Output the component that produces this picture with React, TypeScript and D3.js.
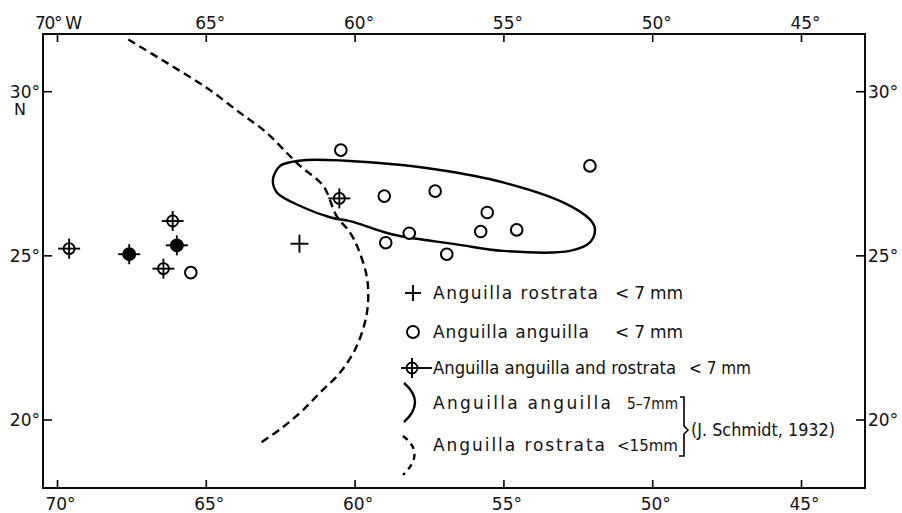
import React from "react";
import * as d3 from "d3";

// ---- data (lon in degrees, west negative; lat in degrees north) ----
const lonTicks = [-70, -65, -60, -55, -50, -45];
const latTicks = [30, 25, 20];

const anguillaLon = [-60.48, -59.02, -57.31, -52.11, -55.56, -55.78, -54.57, -58.18, -58.97, -56.92, -65.52];
const anguillaLat = [28.22, 26.82, 26.97, 27.74, 26.32, 25.74, 25.79, 25.69, 25.4, 25.05, 24.49];

const rostrataLon = [-61.87];
const rostrataLat = [25.37];

const bothLon = [-69.61, -67.59, -66.44, -65.99, -66.13, -60.53];
const bothLat = [25.22, 25.05, 24.61, 25.32, 26.06, 26.75];
const bothFilled = [false, true, false, true, false, false];

// J. Schmidt 1932 contours
const anguillaAreaLon = [-61.63, -59.5, -57.26, -55.03, -53.01, -52.11, -51.94, -52.11, -52.78, -55.03, -56.59, -58.73, -60.17, -60.79, -61.75, -62.63, -62.76, -62.52, -62.13];
const anguillaAreaLat = [27.92, 27.85, 27.63, 27.24, 26.63, 26.11, 25.81, 25.41, 25.15, 25.15, 25.35, 25.65, 26.06, 26.16, 26.48, 26.93, 27.33, 27.74, 27.86];

const rostrataAreaLon = [-67.62, -66.33, -64.99, -63.87, -62.97, -62.3, -61.85, -61.07, -60.62, -60.17, -59.89, -59.61, -59.56, -59.67, -60.0, -60.51, -61.18, -61.85, -62.52, -63.25];
const rostrataAreaLat = [31.59, 30.88, 30.12, 29.36, 28.75, 28.14, 27.74, 27.13, 26.21, 25.71, 25.2, 24.38, 23.67, 22.97, 22.15, 21.44, 20.83, 20.22, 19.72, 19.26];

const FONT = "'DejaVu Sans', sans-serif";

export default function App() {
  const x = d3.scaleLinear().domain([-70, -45]).range([57.5, 801.5]);
  const y = d3.scaleLinear().domain([20, 30]).range([420, 91.7]);
  const L = 43, R = 865, T = 34, B = 488;

  const area1 = anguillaAreaLon.map((lo, i) => [lo, anguillaAreaLat[i]] as [number, number]);
  const area2 = rostrataAreaLon.map((lo, i) => [lo, rostrataAreaLat[i]] as [number, number]);
  const closedLine = d3.line<[number, number]>().x(d => x(d[0])).y(d => y(d[1])).curve(d3.curveCatmullRomClosed);
  const openLine = d3.line<[number, number]>().x(d => x(d[0])).y(d => y(d[1])).curve(d3.curveCatmullRom);

  const fmt = (v: number) => `${Math.abs(v)}°`;

  const crossed = (cx: number, cy: number, filled: boolean, key: string) => (
    <g key={key} stroke="#000" strokeWidth={1.9}>
      <line x1={cx - 11} x2={cx + 11} y1={cy} y2={cy} />
      <line x1={cx} x2={cx} y1={cy - 10} y2={cy + 10} />
      <circle cx={cx} cy={cy} r={filled ? 6 : 5.5} fill={filled ? "#000" : "none"} />
    </g>
  );

  const lt = { fontFamily: FONT, fontSize: 17, fill: "#111" } as const;
  const lts = { fontFamily: FONT, fontSize: 15.5, fill: "#111" } as const;
  const ax = { fontFamily: FONT, fontSize: 17, fill: "#111" } as const;

  return (
    <svg width={902} height={513} style={{ display: "block", position: "absolute", left: 0, top: 0, background: "#fff" }}>
      <rect x={0} y={0} width={902} height={513} fill="#fff" />
      {/* frame */}
      <rect x={L} y={T} width={R - L} height={B - T} fill="none" stroke="#000" strokeWidth={1.9} />
      {/* lon ticks */}
      {lonTicks.map(t => (
        <g key={"lx" + t}>
          <line x1={x(t)} x2={x(t)} y1={T} y2={T + 8} stroke="#000" strokeWidth={1.6} />
          <line x1={x(t)} x2={x(t)} y1={B} y2={B - 8} stroke="#000" strokeWidth={1.6} />
          {t === -70 ? (
            <text x={35} y={29} textLength={47} lengthAdjust="spacing" {...ax}>70° W</text>
          ) : (
            <text x={x(t) + 4} y={29} textAnchor="middle" {...ax}>{fmt(t)}</text>
          )}
          <text x={x(t) + 3} y={510} textAnchor="middle" {...ax}>{fmt(t)}</text>
        </g>
      ))}
      {/* lat ticks */}
      {latTicks.map(t => (
        <g key={"ly" + t}>
          <line x1={L} x2={L + 9} y1={y(t)} y2={y(t)} stroke="#000" strokeWidth={1.6} />
          <line x1={R} x2={R - 9} y1={y(t)} y2={y(t)} stroke="#000" strokeWidth={1.6} />
          <text x={40} y={y(t) + 6} textAnchor="end" {...ax}>{t}°</text>
          <text x={868} y={y(t) + 6} {...ax}>{t}°</text>
        </g>
      ))}
      <text x={14} y={115} fontFamily={FONT} fontSize={16} fill="#111">N</text>

      {/* Schmidt contours */}
      <path d={closedLine(area1) || ""} fill="none" stroke="#000" strokeWidth={2.4} />
      <path d={openLine(area2) || ""} fill="none" stroke="#000" strokeWidth={2.4} strokeDasharray="8,5" />

      {/* markers */}
      {anguillaLon.map((lo, i) => (
        <circle key={"a" + i} cx={x(lo)} cy={y(anguillaLat[i])} r={5.8} fill="#fff" stroke="#000" strokeWidth={2} />
      ))}
      {rostrataLon.map((lo, i) => (
        <g key={"r" + i} stroke="#000" strokeWidth={1.9}>
          <line x1={x(lo) - 9} x2={x(lo) + 9} y1={y(rostrataLat[i])} y2={y(rostrataLat[i])} />
          <line x1={x(lo)} x2={x(lo)} y1={y(rostrataLat[i]) - 9} y2={y(rostrataLat[i]) + 9} />
        </g>
      ))}
      {bothLon.map((lo, i) => crossed(x(lo), y(bothLat[i]), bothFilled[i], "b" + i))}

      {/* legend */}
      <g stroke="#000" strokeWidth={1.9}>
        <line x1={405} x2={421} y1={293} y2={293} />
        <line x1={413} x2={413} y1={285} y2={301} />
      </g>
      <text x={433} y={299} textLength={165} lengthAdjust="spacing" {...lt}>Anguilla rostrata</text>
      <text x={615} y={299} textLength={68} lengthAdjust="spacing" {...lt}>&lt; 7 mm</text>

      <circle cx={413} cy={332} r={6} fill="none" stroke="#000" strokeWidth={1.9} />
      <text x={433} y={338} textLength={156} lengthAdjust="spacing" {...lt}>Anguilla anguilla</text>
      <text x={615} y={338} textLength={68} lengthAdjust="spacing" {...lt}>&lt; 7 mm</text>

      <g stroke="#000" strokeWidth={1.9}>
        <line x1={401} x2={432} y1={368} y2={368} />
        <line x1={412} x2={412} y1={358} y2={378} />
        <circle cx={412} cy={368} r={5.5} fill="none" />
      </g>
      <text x={433} y={374} textLength={243} lengthAdjust="spacingAndGlyphs" {...lt}>Anguilla anguilla and rostrata</text>
      <text x={689} y={374} textLength={62} lengthAdjust="spacingAndGlyphs" {...lt}>&lt; 7 mm</text>

      <path d="M 404 383 Q 426 402 404 422" fill="none" stroke="#000" strokeWidth={2.4} />
      <text x={433} y={409} textLength={178} lengthAdjust="spacing" {...lt}>Anguilla anguilla</text>
      <text x={627} y={409} textLength={51} lengthAdjust="spacingAndGlyphs" {...lts}>5–7mm</text>

      <path d="M 403 436 Q 426 453 403 475" fill="none" stroke="#000" strokeWidth={2.4} strokeDasharray="6,5" />
      <text x={433} y={451} textLength={172} lengthAdjust="spacing" {...lt}>Anguilla rostrata</text>
      <text x={617} y={451} textLength={61} lengthAdjust="spacingAndGlyphs" {...lts}>&lt;15mm</text>

      <path d="M 680 397 L 684 397 L 684 426 L 688 430 L 684 434 L 684 456 L 679 456" fill="none" stroke="#000" strokeWidth={1.6} />
      <text x={691} y={436} textLength={144} lengthAdjust="spacingAndGlyphs" {...lt}>(J. Schmidt, 1932)</text>
    </svg>
  );
}
